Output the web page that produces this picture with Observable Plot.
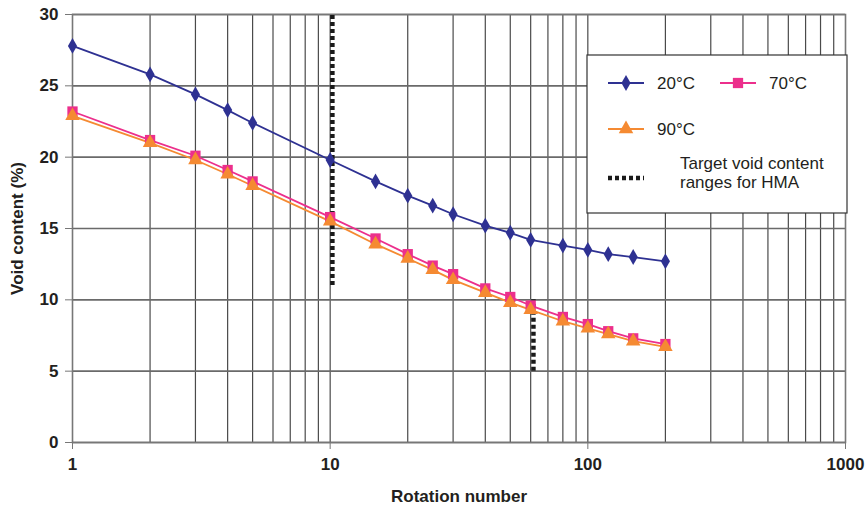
<!DOCTYPE html>
<html>
<head>
<meta charset="utf-8">
<script src="https://cdn.jsdelivr.net/npm/d3@7"></script>
<script src="https://cdn.jsdelivr.net/npm/@observablehq/plot@0.6"></script>
<style>
  body { margin: 0; background: #fff; }
  #wrap { position: relative; width: 868px; height: 505px; font-family: "Liberation Sans", Arial, sans-serif; }
  #legend { position: absolute; left: 586px; top: 54px; }
</style>
</head>
<body>
<div id="wrap"></div>
<script>
// ---- data ----
const rotations = [1, 2, 3, 4, 5, 10, 15, 20, 25, 30, 40, 50, 60, 80, 100, 120, 150, 200];
const void20 = [27.8, 25.8, 24.4, 23.3, 22.4, 19.8, 18.3, 17.3, 16.6, 16.0, 15.2, 14.7, 14.2, 13.8, 13.5, 13.2, 13.0, 12.7];
const void70 = [23.2, 21.2, 20.1, 19.1, 18.3, 15.8, 14.3, 13.2, 12.4, 11.8, 10.8, 10.2, 9.6, 8.8, 8.3, 7.8, 7.3, 6.9];
const void90 = [22.9, 21.0, 19.8, 18.8, 18.0, 15.5, 13.9, 12.9, 12.1, 11.4, 10.5, 9.8, 9.3, 8.5, 8.0, 7.6, 7.1, 6.7];
const seriesNames = ["20°C", "70°C", "90°C"];
const seriesColors = ["#2e3192", "#ec2f8c", "#f58a32"];
const seriesSymbols = ["diamond", "square", "triangle"];
const targetX = [10.2, 61.5];
const targetLow = [11, 5];
const targetHigh = [30, 10];
const xTicks = [1, 10, 100, 1000];
const yTicks = [0, 5, 10, 15, 20, 25, 30];
const xGrid = [2, 3, 4, 5, 6, 7, 8, 9, 10, 20, 30, 40, 50, 60, 70, 80, 90, 100, 200, 300, 400, 500, 600, 700, 800, 900];
const legendTarget = ["Target void content", "ranges for HMA"];

const valueSets = [void20, void70, void90];
const rows = [];
seriesNames.forEach((s, i) => rotations.forEach((r, j) => rows.push({series: s, x: r, y: valueSets[i][j]})));
const targets = targetX.map((x, i) => ({x, y1: targetLow[i], y2: targetHigh[i]}));

const symbolR = {"20°C": 4.8, "70°C": 5.8, "90°C": 5.4};

const lineMarks = [];
seriesNames.forEach((s, i) => {
  const d = rows.filter(r => r.series === s);
  lineMarks.push(Plot.line(d, {x: "x", y: "y", stroke: seriesColors[i], strokeWidth: 1.8}));
});
const dotMarks = [];
seriesNames.forEach((s, i) => {
  const d = rows.filter(r => r.series === s);
  dotMarks.push(Plot.dot(d, {x: "x", y: "y", symbol: () => seriesSymbols[i], fill: seriesColors[i], stroke: "none", r: symbolR[s]}));
});

const chart = Plot.plot({
  width: 868,
  height: 505,
  marginLeft: 72,
  marginRight: 23,
  marginTop: 14,
  marginBottom: 63,
  style: {fontFamily: "'Liberation Sans', Arial, sans-serif", color: "#231f20", background: "#fff"},
  x: {type: "log", domain: [1, 1000]},
  y: {domain: [0, 30]},
  symbol: {type: "identity"},
  marks: [
    Plot.ruleX(xGrid, {stroke: "#4a4a4a", strokeWidth: 1.2}),
    Plot.ruleY(yTicks, {stroke: "#6a6a6a", strokeWidth: 1.6}),
    Plot.frame({stroke: "#777", strokeWidth: 1.6}),
    Plot.axisX({ticks: xTicks, tickFormat: d => String(d), tickSize: 7, tickPadding: 8, stroke: "#777",
      fontSize: 17, fontWeight: "bold", label: "Rotation number", labelAnchor: "center", labelArrow: "none", labelOffset: 59}),
    Plot.axisY({ticks: yTicks, tickSize: 7, tickPadding: 7, stroke: "#777",
      fontSize: 17, fontWeight: "bold", label: "Void content (%)", labelAnchor: "center", labelArrow: "none", labelOffset: 62}),
    Plot.ruleX(targets, {x: "x", y1: "y1", y2: "y2", stroke: "#1a1a1a", strokeWidth: 4.5, strokeDasharray: "4,3"}),
    ...lineMarks,
    ...dotMarks
  ]
});
document.getElementById("wrap").appendChild(chart);

// ---- legend (overlay) ----
const lg = d3.select("#wrap").append("svg").attr("id", "legend").attr("width", 264).attr("height", 162)
  .style("font-family", "'Liberation Sans', Arial, sans-serif");
lg.append("rect").attr("x", 1).attr("y", 1).attr("width", 260).attr("height", 158)
  .attr("fill", "#fff").attr("stroke", "#333").attr("stroke-width", 1.2);
const symFor = {diamond: d3.symbolDiamond, square: d3.symbolSquare, triangle: d3.symbolTriangle};
const legendPos = [{x: 22, y: 29, tx: 71}, {x: 134, y: 29, tx: 183}, {x: 22, y: 75, tx: 71}];
seriesNames.forEach((s, i) => {
  const p = legendPos[i];
  lg.append("line").attr("x1", p.x).attr("x2", p.x + 36).attr("y1", p.y).attr("y2", p.y)
    .attr("stroke", seriesColors[i]).attr("stroke-width", 1.8);
  lg.append("path").attr("transform", `translate(${p.x + 18},${p.y})`)
    .attr("d", d3.symbol(symFor[seriesSymbols[i]], Math.PI * symbolR[s] * symbolR[s])())
    .attr("fill", seriesColors[i]);
  lg.append("text").attr("x", p.tx).attr("y", p.y).attr("dy", "0.35em")
    .attr("font-size", 17).attr("fill", "#231f20").text(s);
});
lg.append("line").attr("x1", 22).attr("x2", 58).attr("y1", 124).attr("y2", 124)
  .attr("stroke", "#1a1a1a").attr("stroke-width", 4.5).attr("stroke-dasharray", "4,3");
legendTarget.forEach((t, i) => {
  lg.append("text").attr("x", 94).attr("y", 109 + i * 19).attr("dy", "0.35em")
    .attr("font-size", 17).attr("fill", "#231f20").text(t);
});
</script>
</body>
</html>
